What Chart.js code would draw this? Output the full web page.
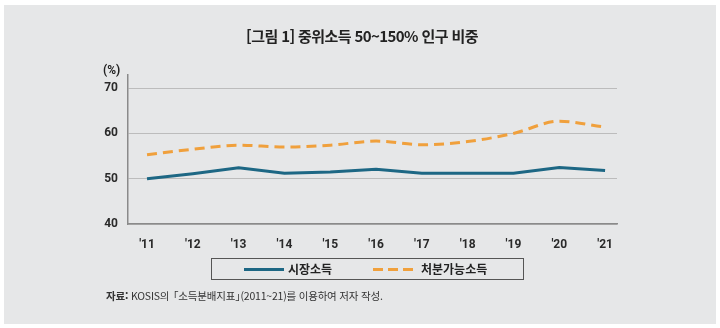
<!DOCTYPE html>
<html lang="ko">
<head>
<meta charset="utf-8">
<script src="https://cdn.jsdelivr.net/npm/chart.js@4.4.1/dist/chart.umd.min.js"></script>
<style>
  html, body { margin: 0; padding: 0; background: #fff; }
  #wrap { position: relative; width: 720px; height: 328px; overflow: hidden; }
  #panel { position: absolute; left: 4px; top: 5px; width: 712px; height: 319px; background: #e6e7e8; }
  #chart { position: absolute; left: 0; top: 0; }
  .txt { position: absolute; font-family: "Noto Sans CJK KR", sans-serif; color: #222; white-space: nowrap; }
  #title { left: 2px; width: 720px; top: 25px; text-align: center; font-size: 15px; font-weight: 700; letter-spacing: -0.6px; }
  #unit { left: 103px; top: 63px; font-family: Roboto, sans-serif; font-size: 12px; font-weight: 700; }
  #legend { position: absolute; left: 211px; top: 258px; width: 311px; height: 20px; border: 1px solid #555; }
  .key { position: absolute; top: 9px; height: 3px; }
  .lab { position: absolute; top: 0px; font-family: "Noto Sans CJK KR", sans-serif; font-size: 12px; font-weight: 700; color: #222; line-height: 20px; }
  #source { left: 106px; top: 288px; font-size: 10.5px; color: #333; letter-spacing: -0.2px; }
  .brl { margin-left: -4px; }
  .brr { margin-right: -5px; }
</style>
</head>
<body>
<div id="wrap">
  <div id="panel"></div>
  <canvas id="chart" width="720" height="328"></canvas>
  <div class="txt" id="title">[그림 1] 중위소득 50~150% 인구 비중</div>
  <div class="txt" id="unit">(%)</div>
  <div id="legend"></div>
  <div class="txt" id="source"><b>자료:</b> KOSIS의 <span class="brl">「</span>소득분배지표<span class="brr">」</span>(2011~21)를 이용하여 저자 작성.</div>
</div>
<script>
// 연도 (2011~2021)
const years = [11, 12, 13, 14, 15, 16, 17, 18, 19, 20, 21];
// 시장소득 기준 중위소득 50~150% 인구 비중
const marketIncome = [50.0, 51.1, 52.4, 51.2, 51.5, 52.1, 51.2, 51.2, 51.2, 52.5, 51.8];
// 처분가능소득 기준
const disposableIncome = [55.3, 56.5, 57.4, 57.0, 57.4, 58.3, 57.5, 58.2, 60.0, 62.7, 61.4];
const yTicks = [40, 50, 60, 70];
const seriesNames = ['시장소득', '처분가능소득'];

const blue = '#1d6784';
const orange = '#f0a03c';

function points(vals){
    return years.map((y, i) => ({x: y, y: vals[i]}));
}

// legend (html)
const legend = document.getElementById('legend');
function addLegend(left, label, labelLeft, dashed, color){
    if(dashed){
        for(let i = 0; i < 3; i++){
            let d = document.createElement('div');
            d.className = 'key';
            d.style.left = (left + i * 15) + 'px';
            d.style.width = '10px';
            d.style.background = color;
            legend.appendChild(d);
        }
    } else {
        let d = document.createElement('div');
        d.className = 'key';
        d.style.left = left + 'px';
        d.style.width = '40px';
        d.style.background = color;
        legend.appendChild(d);
    }
    let s = document.createElement('span');
    s.className = 'lab';
    s.style.left = labelLeft + 'px';
    s.textContent = label;
    legend.appendChild(s);
}
addLegend(32, seriesNames[0], 76, false, blue);
addLegend(161, seriesNames[1], 209, true, orange);

const tickFont = {family: 'Roboto, sans-serif', size: 12, weight: 'bold'};

new Chart(document.getElementById('chart'), {
    type: 'line',
    data: {
        datasets: [{
            label: seriesNames[0],
            data: points(marketIncome),
            borderColor: blue,
            borderWidth: 3,
            pointRadius: 0,
            tension: 0
        }, {
            label: seriesNames[1],
            data: points(disposableIncome),
            borderColor: orange,
            borderWidth: 3,
            borderDash: [10, 6],
            pointRadius: 0,
            cubicInterpolationMode: 'monotone'
        }]
    },
    options: {
        responsive: false,
        animation: false,
        layout: { padding: {left: 88, top: 75, right: 103, bottom: 74} },
        plugins: { legend: {display: false}, tooltip: {enabled: false} },
        scales: {
            x: {
                type: 'linear',
                min: 10.585,
                max: 21.26,
                afterBuildTicks: s => { s.ticks = years.map(v => ({value: v})); },
                afterFit: s => { s.height = 30; },
                grid: { display: false },
                border: { color: '#8a8a8a', width: 1.5 },
                ticks: {
                    font: tickFont,
                    color: '#2a2a2a',
                    padding: 6,
                    callback: v => "'" + v
                }
            },
            y: {
                min: 40,
                max: 72.9,
                afterBuildTicks: s => { s.ticks = yTicks.map(v => ({value: v})); },
                afterFit: s => { s.width = 40; },
                grid: { color: '#bcbcbc', lineWidth: 1, drawTicks: false },
                border: { color: '#8a8a8a', width: 1.5 },
                ticks: {
                    font: tickFont,
                    color: '#2a2a2a',
                    padding: 10
                }
            }
        }
    }
});
</script>
</body>
</html>
